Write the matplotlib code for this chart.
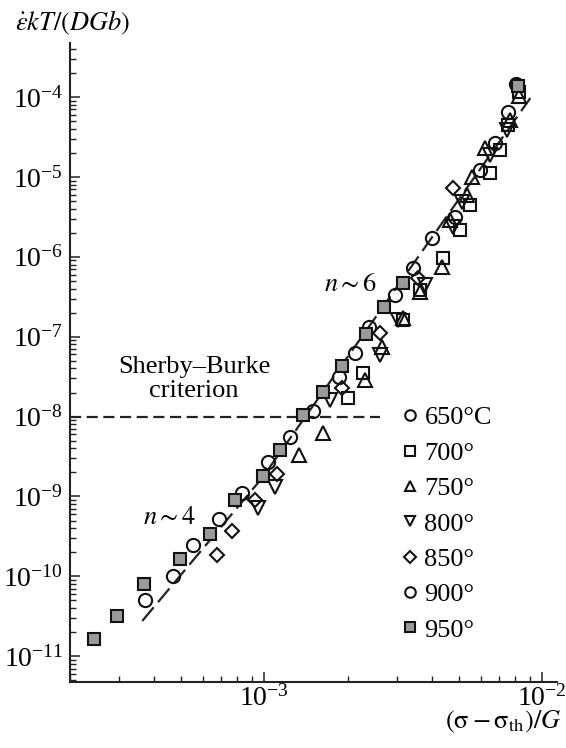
import matplotlib
matplotlib.use('Agg')
import matplotlib.pyplot as plt
from matplotlib.ticker import NullFormatter, LogLocator

plt.rcParams['font.family'] = ['Liberation Serif', 'DejaVu Serif']
plt.rcParams['mathtext.fontset'] = 'stix'

# normalized stress (sigma - sigma_th)/G and normalized creep rate, one pair of lists per temperature
x_650 = [1.85e-3, 2.12e-3, 2.39e-3, 2.96e-3, 3.44e-3, 4.02e-3, 4.86e-3, 5.98e-3, 6.78e-3, 7.55e-3, 8.06e-3]
y_650 = [3.13e-8, 6.25e-8, 1.32e-7, 3.33e-7, 7.24e-7, 1.72e-6, 3.15e-6, 1.22e-5, 2.66e-5, 6.5e-5, 1.46e-4]

x_700 = [2.00e-3, 2.27e-3, 3.16e-3, 3.64e-3, 4.40e-3, 5.07e-3, 5.51e-3, 6.50e-3, 7.06e-3, 7.55e-3, 8.27e-3]
y_700 = [1.71e-8, 3.51e-8, 1.62e-7, 3.85e-7, 9.7e-7, 2.16e-6, 4.45e-6, 1.12e-5, 2.17e-5, 4.47e-5, 1.16e-4]

x_750 = [1.33e-3, 1.62e-3, 2.31e-3, 2.66e-3, 3.16e-3, 3.64e-3, 4.37e-3, 4.67e-3, 5.37e-3, 5.60e-3, 6.24e-3, 7.67e-3, 8.27e-3]
y_750 = [3.30e-9, 6.24e-9, 2.87e-8, 7.43e-8, 1.71e-7, 3.63e-7, 7.45e-7, 2.89e-6, 5.93e-6, 1.0e-5, 2.30e-5, 5.15e-5, 1.03e-4]

x_800 = [9.52e-4, 1.09e-3, 1.73e-3, 2.61e-3, 3.03e-3, 3.79e-3, 4.78e-3, 5.16e-3, 6.50e-3, 7.48e-3]
y_800 = [7.18e-10, 1.32e-9, 1.61e-8, 5.9e-8, 1.62e-7, 4.43e-7, 2.36e-6, 4.85e-6, 1.88e-5, 3.87e-5]

x_850 = [6.78e-4, 7.67e-4, 9.28e-4, 1.11e-3, 1.91e-3, 2.61e-3, 3.58e-3, 4.78e-3]
y_850 = [1.85e-10, 3.70e-10, 9.04e-10, 1.91e-9, 2.28e-8, 1.11e-7, 5.43e-7, 7.26e-6]

x_900 = [3.73e-4, 4.71e-4, 5.55e-4, 6.89e-4, 8.34e-4, 1.03e-3, 1.24e-3, 1.50e-3]
y_900 = [5.07e-11, 1.01e-10, 2.47e-10, 5.23e-10, 1.11e-9, 2.70e-9, 5.56e-9, 1.17e-8]

x_950 = [2.44e-4, 2.94e-4, 3.70e-4, 4.99e-4, 6.39e-4, 7.87e-4, 9.92e-4, 1.14e-3, 1.38e-3, 1.62e-3,
         1.91e-3, 2.33e-3, 2.70e-3, 3.16e-3, 8.20e-3]
y_950 = [1.65e-11, 3.19e-11, 8.04e-11, 1.65e-10, 3.40e-10, 9.04e-10, 1.81e-9, 3.82e-9, 1.05e-8, 2.03e-8,
         4.30e-8, 1.08e-7, 2.36e-7, 4.70e-7, 1.37e-4]

labels = ['650°C', '700°', '750°', '800°', '850°', '900°', '950°']

x_ticks = [1e-3, 1e-2]
y_ticks = [1e-11, 1e-10, 1e-9, 1e-8, 1e-7, 1e-6, 1e-5, 1e-4]

# n ~ 4 and n ~ 6 fit line, Sherby-Burke level
fit_x = [3.64e-4, 9.83e-4, 9.06e-3]
fit_y = [2.77e-11, 1.71e-9, 9.7e-5]
sb_x = [2.0e-4, 2.6e-3]
sb_y = [1e-8, 1e-8]

W, H = 566, 748
fig = plt.figure(figsize=(W / 100, H / 100), dpi=100)
ax = fig.add_axes([70 / W, 1 - 682 / H, 487 / W, 639 / H])

ax.plot(sb_x, sb_y, color='#222222', lw=1.6, dashes=(5, 2.5), zorder=1)
ax.plot(fit_x, fit_y, color='#222222', lw=1.6, dashes=(8, 3), zorder=1)

series = [
    (x_650, y_650, 'o', 9.5, 'none'),
    (x_700, y_700, 's', 8.5, 'none'),
    (x_750, y_750, '^', 9.5, 'none'),
    (x_800, y_800, 'v', 9.5, 'none'),
    (x_850, y_850, 'D', 7.5, 'none'),
    (x_900, y_900, 'o', 9.5, 'none'),
    (x_950, y_950, 's', 8.5, '#9a9a9a'),
]
for (xs, ys, m, ms, fc), lab in zip(series, labels):
    ax.plot(xs, ys, ls='none', marker=m, ms=ms, mfc=fc, mec='#111111', mew=1.5, label=lab, zorder=3)

ax.set_xscale('log')
ax.set_yscale('log')
ax.set_xlim(2.0e-4, 1.13e-2)
ax.set_ylim(4.76e-12, 4.74e-4)
ax.set_xticks(x_ticks)
ax.set_yticks(y_ticks)
ax.xaxis.set_minor_locator(LogLocator(base=10, subs=range(2, 10)))
ax.yaxis.set_minor_locator(LogLocator(base=10, subs=range(2, 10)))
ax.xaxis.set_minor_formatter(NullFormatter())
ax.yaxis.set_minor_formatter(NullFormatter())

for s in ['top', 'right']:
    ax.spines[s].set_visible(False)
for s in ['left', 'bottom']:
    ax.spines[s].set_linewidth(1.5)
    ax.spines[s].set_color('#222222')

ax.tick_params(which='both', direction='in', color='#222222', labelsize=20)
ax.tick_params(which='major', length=7, width=1.1)
ax.tick_params(which='minor', length=4.5, width=1.0)
ax.tick_params(axis='y', which='major', pad=5)
ax.tick_params(axis='x', which='major', pad=2)

ax.legend(loc='upper left', bbox_to_anchor=(402 / W, 1 - 406 / H), bbox_transform=fig.transFigure,
          frameon=False, fontsize=19, markerscale=0.8, handlelength=0.6, handletextpad=0.25,
          labelspacing=0.45, borderpad=0, borderaxespad=0)

fig.text(15 / W, 1 - 23 / H, r'$\dot{\varepsilon}kT/(DGb)$', fontsize=19, ha='left', va='center')
fig.text(562 / W, 1 - 722 / H, r'$(\mathrm{\sigma} - \mathrm{\sigma}_{\mathrm{th}})/G$', fontsize=19,
         ha='right', va='center')
fig.text(194 / W, 1 - 379 / H, 'Sherby–Burke\ncriterion', fontsize=19, ha='center', va='center',
         linespacing=1.1)
fig.text(351 / W, 1 - 285 / H, r'$n \sim 6$', fontsize=19, ha='center', va='center')
fig.text(170 / W, 1 - 518 / H, r'$n \sim 4$', fontsize=19, ha='center', va='center')

fig.savefig('out.png', dpi=100)
